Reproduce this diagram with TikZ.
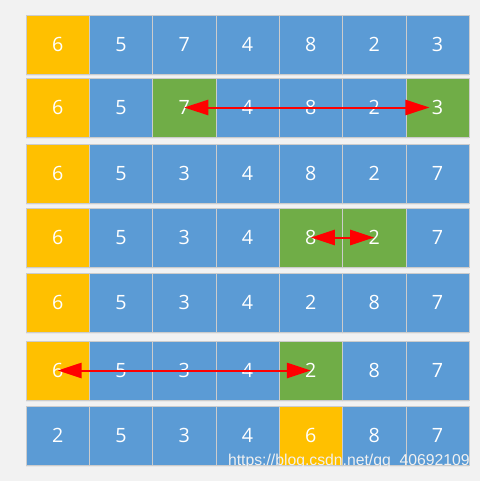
\documentclass[tikz,border=0pt]{standalone}
\usepackage{fontspec}
\setmainfont{Open Sans}
\newfontfamily\markfont{Liberation Sans}
\usetikzlibrary{arrows.meta,shadows}
\definecolor{yel}{HTML}{FFC000}
\definecolor{blu}{HTML}{5B9BD5}
\definecolor{grn}{HTML}{70AD47}
\definecolor{backgray}{HTML}{F2F2F2}
\tikzstyle{swap} = [
        red,
        line width=0.05cm,
        {Triangle[length=0.6cm,width=0.38cm]}-{Triangle[length=0.6cm,width=0.38cm]},
    ]
\tikzstyle{cell} = [
        rectangle,
        minimum width=1.5825cm,
        minimum height=1.475cm,
        inner sep=0pt,
        draw=gray!40,
        text=white,
        font=\fontsize{14}{16}\selectfont,
        drop shadow={shadow xshift=0pt, shadow yshift=-0.06cm, fill=black!12},
        % line width = 0.5cm,
    ]

\begin{document}
\begin{tikzpicture}[x=0.025cm, y=-0.025cm]
            \fill [backgray] (0,0) rectangle (480,481);
            \useasboundingbox (0,0) rectangle (480,481);
            \foreach \v/\c [count=\i] in {6/yel,5/blu,7/blu,4/blu,8/blu,2/blu,3/blu}
                \node [cell, fill=\c] (r1c\i) at (-5.65+63.3*\i, 44.5) {\v};
            \foreach \v/\c [count=\i] in {6/yel,5/blu,7/grn,4/blu,8/blu,2/blu,3/grn}
                \node [cell, fill=\c] (r2c\i) at (-5.65+63.3*\i, 107.5) {\v};
            \foreach \v/\c [count=\i] in {6/yel,5/blu,3/blu,4/blu,8/blu,2/blu,7/blu}
                \node [cell, fill=\c] (r3c\i) at (-5.65+63.3*\i, 173.5) {\v};
            \foreach \v/\c [count=\i] in {6/yel,5/blu,3/blu,4/blu,8/grn,2/grn,7/blu}
                \node [cell, fill=\c] (r4c\i) at (-5.65+63.3*\i, 237.5) {\v};
            \foreach \v/\c [count=\i] in {6/yel,5/blu,3/blu,4/blu,2/blu,8/blu,7/blu}
                \node [cell, fill=\c] (r5c\i) at (-5.65+63.3*\i, 302.5) {\v};
            \foreach \v/\c [count=\i] in {6/yel,5/blu,3/blu,4/blu,2/grn,8/blu,7/blu}
                \node [cell, fill=\c] (r6c\i) at (-5.65+63.3*\i, 370.5) {\v};
            \foreach \v/\c [count=\i] in {2/blu,5/blu,3/blu,4/blu,6/yel,8/blu,7/blu}
                \node [cell, fill=\c] (r7c\i) at (-5.65+63.3*\i, 435.5) {\v};
            \draw [swap] (r2c3.center) -- ([xshift=-0.2cm]r2c7.center);
            \draw [swap] (r4c5.center) -- (r4c6.center);
            \draw [swap] (r6c1.center) -- (r6c5.center);
            \node [anchor=east, text=white!88!gray, font=\markfont\fontsize{11.2}{13}\selectfont, inner sep=0pt] (watermark) at (470, 461) {https://blog.csdn.net/qq\_40692109};
        \end{tikzpicture}
\end{document}
